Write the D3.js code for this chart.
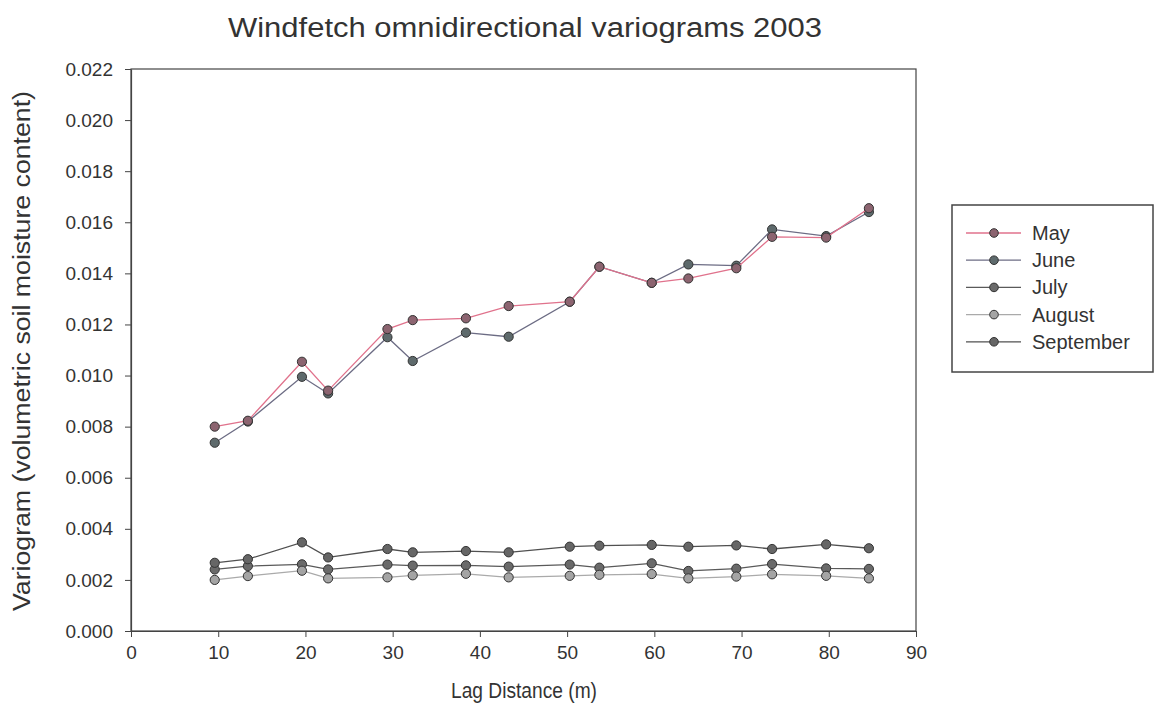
<!DOCTYPE html>
<html>
<head>
<meta charset="utf-8">
<script src="https://cdn.jsdelivr.net/npm/d3@7"></script>
<style>
body{margin:0;background:#fff}
text{font-family:Arial,"Liberation Sans",sans-serif;fill:#333}
</style>
</head>
<body>
<svg id="mySVG" width="1157" height="725"></svg>
<script>
//---lag distances (m)---
var lags=[9.6,13.4,19.6,22.6,29.4,32.3,38.4,43.3,50.3,53.7,59.7,63.9,69.4,73.5,79.7,84.6]

//---variogram values per month---
var mayVals=[0.00800,0.00823,0.01054,0.00941,0.01182,0.01217,0.01224,0.01272,0.01289,0.01426,0.01363,0.01380,0.01420,0.01543,0.01540,0.01655]
var juneVals=[0.00737,0.00820,0.00995,0.00930,0.01150,0.01057,0.01168,0.01152,0.01289,0.01426,0.01363,0.01435,0.01430,0.01572,0.01546,0.01640]
var julyVals=[0.00241,0.00254,0.00261,0.00241,0.00260,0.00256,0.00257,0.00252,0.00260,0.00248,0.00265,0.00235,0.00244,0.00262,0.00245,0.00243]
var augustVals=[0.00200,0.00215,0.00236,0.00206,0.00210,0.00218,0.00224,0.00210,0.00216,0.00220,0.00223,0.00206,0.00213,0.00222,0.00216,0.00206]
var septemberVals=[0.00267,0.00281,0.00347,0.00288,0.00321,0.00308,0.00313,0.00308,0.00330,0.00334,0.00337,0.00330,0.00335,0.00321,0.00339,0.00324]

var monthNames=["May","June","July","August","September"]
var xTicks=[0,10,20,30,40,50,60,70,80,90]
var yTicks=[0,0.002,0.004,0.006,0.008,0.010,0.012,0.014,0.016,0.018,0.020,0.022]

//---styles per month---
var lineColors=["#e0728c","#6c6c84","#5a5a5a","#aaaaaa","#505050"]
var dotColors=["#8c6470","#5e6a6c","#6a6a6a","#a4a4a4","#666666"]

var allVals=[mayVals,juneVals,julyVals,augustVals,septemberVals]
var series=monthNames.map(function(m,i){
    return {name:m,line:lineColors[i],dot:dotColors[i],
        pts:lags.map(function(d,k){return {x:d,y:allVals[i][k]}})}
})

//---plot box (don't use "top": window.top is taken)---
var plotL=131,plotR=916,plotT=69,plotB=631
var svg=d3.select("#mySVG")

var x=d3.scaleLinear().domain([0,90]).range([plotL,plotR])
var y=d3.scaleLinear().domain([0,0.022]).range([plotB,plotT])

//---frame---
svg.append("rect")
.attr("x",plotL).attr("y",plotT)
.attr("width",plotR-plotL).attr("height",plotB-plotT)
.attr("fill","none").attr("stroke","#444").attr("stroke-width",1.2)

//---axes---
var xAxis=svg.append("g").attr("transform","translate(0,"+plotB+")")
.call(d3.axisBottom(x).tickValues(xTicks).tickSize(6).tickSizeOuter(0).tickPadding(9))
var yAxis=svg.append("g").attr("transform","translate("+plotL+",0)")
.call(d3.axisLeft(y).tickValues(yTicks).tickFormat(d3.format(".3f")).tickSize(6).tickSizeOuter(0).tickPadding(12))
;[xAxis,yAxis].forEach(function(a){
    a.select(".domain").attr("stroke","#444").attr("stroke-width",1.2)
    a.selectAll(".tick line").attr("stroke","#444")
    a.selectAll(".tick text").attr("font-size",19).attr("fill","#333")
        .attr("font-family","Arial, 'Liberation Sans', sans-serif")
})

//---lines and dots---
var line=d3.line().x(function(d){return x(d.x)}).y(function(d){return y(d.y)})
var drawOrder=[2,3,4,1,0]
drawOrder.forEach(function(i){
    var s=series[i]
    var g=svg.append("g")
    g.append("path").attr("d",line(s.pts))
    .attr("fill","none").attr("stroke",s.line).attr("stroke-width",1.3)
    g.selectAll("circle").data(s.pts).enter().append("circle")
    .attr("cx",function(d){return x(d.x)})
    .attr("cy",function(d){return y(d.y)})
    .attr("r",4.6)
    .attr("fill",s.dot).attr("stroke","#333").attr("stroke-width",1)
})

//---titles---
svg.append("text").attr("x",525).attr("y",37)
.attr("text-anchor","middle").attr("font-size",27)
.attr("textLength",594).attr("lengthAdjust","spacingAndGlyphs")
.text("Windfetch omnidirectional variograms 2003")

svg.append("text").attr("x",524).attr("y",698)
.attr("text-anchor","middle").attr("font-size",22)
.attr("textLength",146).attr("lengthAdjust","spacingAndGlyphs")
.text("Lag Distance (m)")

svg.append("text")
.attr("transform","translate(30,351) rotate(-90)")
.attr("text-anchor","middle").attr("font-size",23)
.attr("textLength",520).attr("lengthAdjust","spacingAndGlyphs")
.text("Variogram (volumetric soil moisture content)")

//---legend---
var legend=svg.append("g")
legend.append("rect").attr("x",952).attr("y",205).attr("width",201).attr("height",167)
.attr("fill","#fff").attr("stroke","#444").attr("stroke-width",1.5)
var items=legend.selectAll("g.item").data(series).enter().append("g")
.attr("transform",function(d,i){return "translate(0,"+(233+i*27.2)+")"})
items.append("line").attr("x1",966).attr("x2",1021).attr("y1",0).attr("y2",0)
.attr("stroke",function(d){return d.line}).attr("stroke-width",1.3)
items.append("circle").attr("cx",994).attr("cy",0).attr("r",4.3)
.attr("fill",function(d){return d.dot}).attr("stroke","#333")
items.append("text").attr("x",1032).attr("y",7).attr("font-size",20)
.text(function(d){return d.name})
</script>
</body>
</html>
